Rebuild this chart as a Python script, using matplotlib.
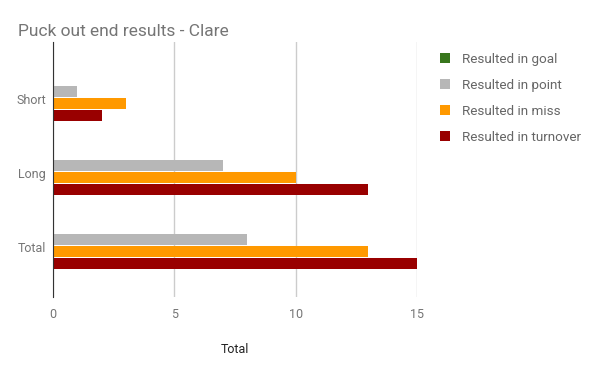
import numpy as np
import matplotlib
matplotlib.use("Agg")
import matplotlib.pyplot as plt
from matplotlib.patches import Patch

plt.rcParams['font.family'] = ['Roboto', 'DejaVu Sans']

categories = ["Short", "Long", "Total"]
series = ["Resulted in goal", "Resulted in point", "Resulted in miss", "Resulted in turnover"]
goal = [0, 0, 0]
point = [1, 7, 8]
miss = [3, 10, 13]
turnover = [2, 13, 15]
colors = ["#38761d", "#b7b7b7", "#ff9900", "#990000"]

fig = plt.figure(figsize=(6, 3.71), dpi=100)
ax = fig.add_axes([53 / 600, 1 - 297 / 371, (417 - 53) / 600, (297 - 42) / 371])

y = np.arange(len(categories))
slot = 0.162
h = 0.148
for i, (vals, c) in enumerate(zip([goal, point, miss, turnover], colors)):
    ax.barh(y + (i - 1.5) * slot - 0.02, vals, height=h, color=c, zorder=3)

ax.set_xlim(0, 15)
ax.set_ylim(2.68, -0.77)
ax.set_xticks([0, 5, 10, 15])
ax.set_yticks(y)
ax.set_yticklabels(categories)
ax.grid(axis="x", color="#cccccc", linewidth=1, zorder=0)
for s in ["top", "right", "bottom"]:
    ax.spines[s].set_visible(False)
ax.spines["left"].set_color("#333333")
ax.spines["left"].set_zorder(4)
ax.tick_params(length=0, labelsize=9, labelcolor="#757575", pad=8)
ax.tick_params(axis="y", pad=5)

ax.set_xlabel("Total", fontsize=9, color="#222222", labelpad=16)
fig.text(18 / 600, 1 - 31 / 371, "Puck out end results - Clare", fontsize=12.5,
         color="#757575", va="center")

handles = [Patch(facecolor=c, edgecolor="none") for c in colors]
fig.legend(handles, series, loc="upper left", bbox_to_anchor=(428 / 600, 1 - 41 / 371),
           frameon=False, fontsize=9.7, labelcolor="#666666", handlelength=0.75,
           handleheight=0.75, handletextpad=0.9, labelspacing=0.95)

fig.savefig("out.png", dpi=100)
